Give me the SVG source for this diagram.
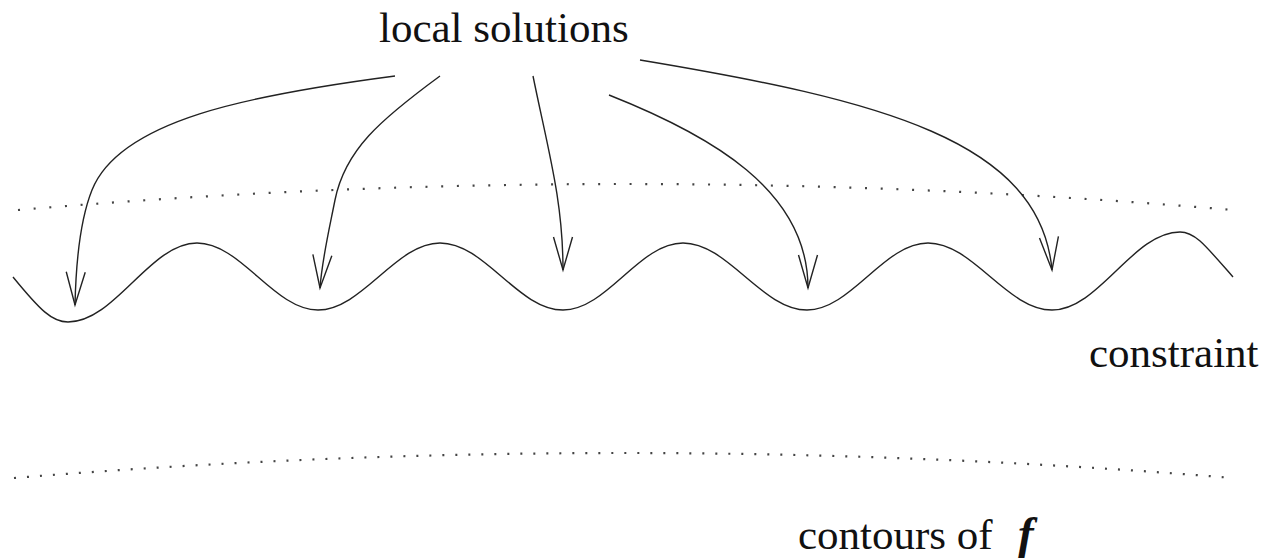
<svg xmlns="http://www.w3.org/2000/svg" width="1265" height="558" viewBox="0 0 1265 558">
  <style>
    .lbl { font-family: "Liberation Serif", "Times New Roman", serif; font-size: 43px; fill: #111; }
    .curve { fill: none; stroke: #222; stroke-width: 1.4; }
    .dots { fill: none; stroke: #444; stroke-width: 2.2; }
    .arrow { fill: none; stroke: #222; stroke-width: 1.4; marker-end: url(#vhead); }
  </style>
  <defs>
    <marker id="vhead" markerUnits="userSpaceOnUse" orient="auto" overflow="visible" markerWidth="40" markerHeight="24" refX="0" refY="0">
      <path d="M-33,-9.5 L0,0 L-33,9.5" fill="none" stroke="#222" stroke-width="1.4"/>
    </marker>
  </defs>
  <rect width="1265" height="558" fill="#fff"/>

  <g id="contour-top">
    <path class="dots" stroke-dasharray="2 13.7" d="M18,210 Q625,158 1233,210"/>
  </g>
  <g id="contour-bottom">
    <path class="dots" stroke-dasharray="2 11" d="M14,478 Q624,428 1233,478"/>
  </g>

  <g id="constraint-curve">
    <path class="curve" d="M13,277 C40,310 52,322 68,322 C115,322 150,243 197,243 C241,243 274,310 318,310 C362,310 396,243 440,243 C485,243 518,310 563,310 C607,310 639,243 683,243 C728,243 762,310 807,310 C851,310 884,243 928,243 C973,243 1007,310 1052,310 C1099,310 1133,232 1180,232 C1195,232 1205,245 1233,277"/>
  </g>

  <g id="connectors">
    <path class="arrow" d="M395,76 C250,95 120,120 92,190 C80,220 76,260 75,305"/>
    <path class="arrow" d="M440,76 C380,120 345,150 335,200 C328,235 322,260 320,288"/>
    <path class="arrow" d="M533,76 C548,150 563,200 563,270"/>
    <path class="arrow" d="M609,95 C710,135 808,190 808,288"/>
    <path class="arrow" d="M640,60 C880,100 1040,140 1052,270"/>
  </g>

  <g id="label-local-solutions">
    <text class="lbl" x="379" y="42">local solutions</text>
  </g>
  <g id="label-constraint">
    <text class="lbl" x="1089" y="367">constraint</text>
  </g>
  <g id="label-contours">
    <text class="lbl" x="798" y="549">contours of <tspan x="1018" font-size="47" font-style="italic" font-weight="bold">f</tspan></text>
  </g>
</svg>
